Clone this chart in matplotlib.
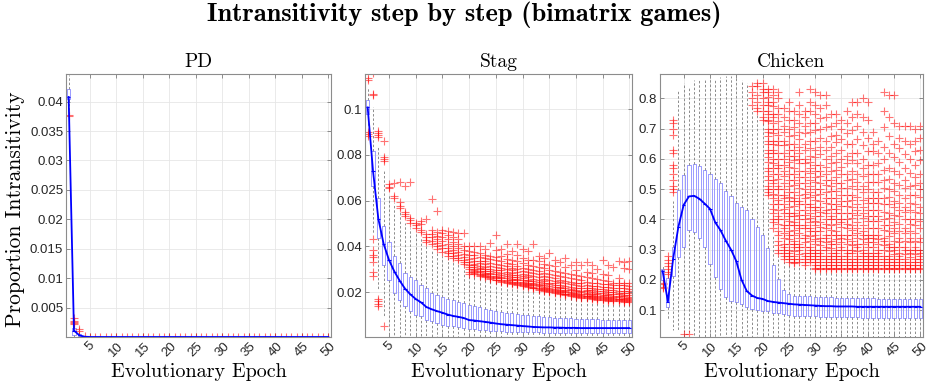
import numpy as np
import matplotlib.pyplot as plt
from matplotlib.ticker import FuncFormatter

epochs = list(range(1, 51))

# ---- PD ----
pd_med = [0.0408, 0.0011, 0.0003, 0.00005, 0, 0, 0, 0, 0, 0,
          0, 0, 0, 0, 0, 0, 0, 0, 0, 0,
          0, 0, 0, 0, 0, 0, 0, 0, 0, 0,
          0, 0, 0, 0, 0, 0, 0, 0, 0, 0,
          0, 0, 0, 0, 0, 0, 0, 0, 0, 0]
pd_q1 = [0.0404, 0.0004, 0.0001, 0, 0, 0, 0, 0, 0, 0,
         0, 0, 0, 0, 0, 0, 0, 0, 0, 0,
         0, 0, 0, 0, 0, 0, 0, 0, 0, 0,
         0, 0, 0, 0, 0, 0, 0, 0, 0, 0,
         0, 0, 0, 0, 0, 0, 0, 0, 0, 0]
pd_q3 = [0.0421, 0.0016, 0.0005, 0.0001, 0, 0, 0, 0, 0, 0,
         0, 0, 0, 0, 0, 0, 0, 0, 0, 0,
         0, 0, 0, 0, 0, 0, 0, 0, 0, 0,
         0, 0, 0, 0, 0, 0, 0, 0, 0, 0,
         0, 0, 0, 0, 0, 0, 0, 0, 0, 0]
pd_lo = [0.0385, 0, 0, 0, 0, 0, 0, 0, 0, 0,
         0, 0, 0, 0, 0, 0, 0, 0, 0, 0,
         0, 0, 0, 0, 0, 0, 0, 0, 0, 0,
         0, 0, 0, 0, 0, 0, 0, 0, 0, 0,
         0, 0, 0, 0, 0, 0, 0, 0, 0, 0]
pd_hi = [0.0445, 0.0019, 0.0008, 0.0001, 0, 0, 0, 0, 0, 0,
         0, 0, 0, 0, 0, 0, 0, 0, 0, 0,
         0, 0, 0, 0, 0, 0, 0, 0, 0, 0,
         0, 0, 0, 0, 0, 0, 0, 0, 0, 0,
         0, 0, 0, 0, 0, 0, 0, 0, 0, 0]
pd_out = [[0.0375, 0.0378], [0.0022, 0.0024, 0.0026, 0.0028, 0.0033], [0.0011, 0.0013], [0.0002],
          [8e-5], [8e-5], [8e-5], [8e-5], [8e-5], [8e-5], [8e-5], [8e-5], [8e-5], [8e-5],
          [8e-5], [8e-5], [8e-5], [8e-5], [8e-5], [8e-5], [8e-5], [8e-5], [8e-5], [8e-5],
          [8e-5], [8e-5], [8e-5], [8e-5], [8e-5], [8e-5], [8e-5], [8e-5], [8e-5], [8e-5],
          [8e-5], [8e-5], [8e-5], [8e-5], [8e-5], [8e-5], [8e-5], [8e-5], [8e-5], [8e-5],
          [8e-5], [8e-5], [8e-5], [8e-5], [8e-5], [8e-5]]

# ---- Stag ----
stag_med = [0.1007, 0.073, 0.052, 0.041, 0.034, 0.029, 0.025, 0.0215, 0.019, 0.017,
            0.0155, 0.0135, 0.0125, 0.0117, 0.011, 0.0102, 0.0096, 0.0092, 0.0087, 0.0078,
            0.0076, 0.0073, 0.007, 0.0067, 0.0063, 0.006, 0.0058, 0.0056, 0.0054, 0.0052,
            0.005, 0.0048, 0.0047, 0.0046, 0.0046, 0.0045, 0.0045, 0.0044, 0.0044, 0.0044,
            0.0043, 0.0043, 0.0043, 0.0043, 0.0043, 0.0043, 0.0043, 0.0043, 0.0043, 0.0043]
stag_q1 = [0.0978, 0.0662, 0.0435, 0.0319, 0.0254, 0.0196, 0.0164, 0.0138, 0.0116, 0.0102,
           0.0094, 0.008, 0.0072, 0.0065, 0.0058, 0.0054, 0.0051, 0.0048, 0.0043, 0.0039,
           0.0038, 0.0036, 0.0034, 0.0032, 0.003, 0.0029, 0.0028, 0.0027, 0.0026, 0.0025,
           0.0025, 0.0024, 0.0024, 0.0023, 0.0023, 0.0023, 0.0023, 0.0022, 0.0022, 0.0022,
           0.0022, 0.0022, 0.0022, 0.0022, 0.0022, 0.0022, 0.0022, 0.0022, 0.0022, 0.0022]
stag_q3 = [0.104, 0.0816, 0.061, 0.049, 0.042, 0.036, 0.0326, 0.0283, 0.0268, 0.0254,
           0.0232, 0.0217, 0.0196, 0.0188, 0.0178, 0.017, 0.0164, 0.0158, 0.0152, 0.0145,
           0.0138, 0.0133, 0.0128, 0.0122, 0.0116, 0.0113, 0.011, 0.0107, 0.0104, 0.0101,
           0.0099, 0.0097, 0.0095, 0.0093, 0.009, 0.0089, 0.0088, 0.0087, 0.0085, 0.0084,
           0.0083, 0.0082, 0.0081, 0.0081, 0.008, 0.0079, 0.0079, 0.0078, 0.0078, 0.0077]
stag_lo = [0.092, 0.046, 0.021, 0.009, 0.001, 0.0008, 0.0006, 0.0005, 0.0005, 0.0005,
           0.0005, 0.0005, 0.0005, 0.0005, 0.0005, 0.0005, 0.0005, 0.0005, 0.0005, 0.0005,
           0.0005, 0.0005, 0.0005, 0.0005, 0.0005, 0.0005, 0.0005, 0.0005, 0.0005, 0.0005,
           0.0005, 0.0005, 0.0005, 0.0005, 0.0005, 0.0005, 0.0005, 0.0005, 0.0005, 0.0005,
           0.0005, 0.0005, 0.0005, 0.0005, 0.0005, 0.0005, 0.0005, 0.0005, 0.0005, 0.0005]
stag_hi = [0.109, 0.101, 0.084, 0.073, 0.063, 0.059, 0.055, 0.05, 0.048, 0.046,
           0.044, 0.04, 0.039, 0.037, 0.036, 0.035, 0.034, 0.033, 0.031, 0.027,
           0.027, 0.0265, 0.026, 0.025, 0.0245, 0.024, 0.0235, 0.023, 0.0225, 0.022,
           0.0215, 0.021, 0.0205, 0.02, 0.0195, 0.019, 0.0185, 0.018, 0.0178, 0.0175,
           0.017, 0.0168, 0.0165, 0.0162, 0.016, 0.0158, 0.0156, 0.0155, 0.0154, 0.0152]
# outliers, in thousandths
stag_out = [
    [113.6, 112.6, 89.8, 88.9, 88.1],
    [115.8, 106.6, 106.0, 43.0, 38.2, 36.4, 35.2, 33.0, 29.0, 27.0],
    [90.2, 89.4, 88.6, 87.9, 17.2, 16.1, 15.0, 13.9],
    [86.2, 79.0, 78.1, 77.2, 5.0],
    [67.4, 66.1, 65.3],
    [67.5, 62.0, 61.1],
    [68.1, 59.4, 57.6, 56.7],
    [66.2, 55.2, 54.3, 53.1],
    [68.2, 52.4, 51.5, 50.2],
    [50.4, 49.3, 48.1],
    [51.2, 49.9, 47.3, 46.2],
    [52.1, 45.3, 44.2, 42.8, 41.9],
    [60.5, 47.1, 45.4, 44.0, 42.5, 41.0],
    [55.6, 46.2, 44.4, 43.1, 41.6, 40.2, 38.8],
    [47.2, 45.8, 44.0, 42.3, 40.4, 39.1, 37.6],
    [46.8, 45.0, 43.1, 41.2, 39.5, 38.1, 36.9, 36.0],
    [46.1, 44.2, 42.0, 40.3, 38.4, 37.0, 35.8, 34.9],
    [45.8, 43.0, 41.1, 39.2, 37.4, 36.2, 35.1, 34.0],
    [46.0, 40.2, 38.3, 36.6, 35.2, 34.1, 33.0, 32.1],
    [40.1, 38.0, 36.2, 34.5, 33.2, 32.0, 31.1, 30.0, 29.0, 28.1],
    [28.0, 28.3, 28.8, 29.1, 29.8, 30.2, 31.0, 31.7, 32.5, 33.6, 34.8, 36.1, 37.5, 40.0],
    [27.2, 27.5, 28.1, 28.7, 29.1, 29.9, 30.6, 31.4, 32.7, 33.8, 35.3, 37.0, 40.3],
    [26.6, 26.9, 27.5, 28.0, 28.5, 29.3, 30.1, 31.1, 32.2, 33.4, 35.0, 36.4, 39.0],
    [25.6, 26.1, 26.5, 27.0, 27.8, 28.4, 29.3, 30.3, 31.4, 32.9, 34.3, 36.0, 41.5],
    [25.1, 25.4, 26.0, 26.6, 27.2, 28.0, 28.8, 29.8, 31.0, 32.2, 33.9, 35.5, 38.2, 45.0],
    [24.6, 25.0, 25.4, 26.1, 26.8, 27.5, 28.4, 29.5, 30.5, 32.0, 33.4, 35.6, 39.0],
    [24.1, 24.5, 25.0, 25.5, 26.3, 27.1, 27.9, 28.8, 30.0, 31.3, 32.7, 34.6, 36.8, 41.0],
    [23.6, 24.0, 24.4, 25.1, 25.8, 26.4, 27.3, 28.3, 29.5, 30.6, 32.2, 34.0, 38.0],
    [23.1, 23.4, 24.0, 24.6, 25.1, 25.9, 26.8, 27.6, 28.7, 30.1, 31.5, 33.5, 36.2, 41.0],
    [22.6, 23.0, 23.5, 24.0, 24.6, 25.2, 26.1, 27.1, 28.1, 29.3, 30.7, 32.6, 35.0, 39.0],
    [22.1, 22.5, 22.9, 23.4, 24.1, 24.7, 25.5, 26.4, 27.3, 28.6, 30.0, 31.8, 34.2, 38.0],
    [21.6, 21.9, 22.4, 22.9, 23.5, 24.2, 24.9, 25.9, 26.9, 28.2, 29.6, 31.5, 34.0, 41.0],
    [21.1, 21.5, 21.9, 22.5, 23.1, 23.7, 24.6, 25.5, 26.6, 27.8, 29.3, 31.2, 33.5, 36.0],
    [20.6, 21.0, 21.4, 21.9, 22.4, 23.2, 23.9, 24.8, 25.8, 27.1, 28.5, 30.4, 32.5, 35.0],
    [20.1, 20.4, 20.9, 21.4, 22.0, 22.6, 23.4, 24.2, 25.3, 26.5, 27.9, 29.8, 32.0, 37.0],
    [19.6, 20.0, 20.4, 20.8, 21.5, 22.1, 22.9, 23.8, 24.8, 26.0, 27.4, 29.2, 31.4, 34.0],
    [19.1, 19.5, 19.9, 20.4, 21.0, 21.6, 22.3, 23.3, 24.3, 25.5, 27.0, 28.8, 33.0],
    [18.6, 19.0, 19.4, 19.9, 20.5, 21.1, 21.9, 22.7, 23.8, 25.0, 26.6, 28.5, 31.0, 35.0],
    [18.3, 18.7, 19.1, 19.6, 20.1, 20.8, 21.5, 22.4, 23.4, 24.6, 26.0, 28.0, 32.0],
    [18.0, 18.4, 18.8, 19.3, 19.8, 20.4, 21.1, 22.0, 23.1, 24.2, 25.6, 27.5, 29.6, 33.0],
    [17.6, 18.0, 18.4, 18.9, 19.4, 20.0, 20.7, 21.6, 22.6, 23.8, 25.3, 27.2, 32.0],
    [17.3, 17.7, 18.1, 18.5, 19.0, 19.6, 20.3, 21.1, 22.0, 23.2, 24.6, 26.4, 29.0, 33.0],
    [17.0, 17.4, 17.8, 18.2, 18.7, 19.3, 20.0, 20.8, 21.7, 22.8, 24.2, 26.0, 28.5, 32.0],
    [16.7, 17.1, 17.5, 17.9, 18.4, 19.0, 19.7, 20.5, 21.4, 22.5, 23.9, 25.6, 30.0],
    [16.5, 16.9, 17.3, 17.7, 18.2, 18.8, 19.5, 20.3, 21.2, 22.3, 23.6, 25.3, 28.0, 34.0],
    [16.3, 16.7, 17.1, 17.5, 18.0, 18.6, 19.3, 20.1, 21.0, 22.1, 23.4, 25.0, 27.5, 32.0],
    [16.1, 16.5, 16.9, 17.3, 17.8, 18.4, 19.1, 19.9, 20.8, 21.9, 23.2, 24.0, 31.0],
    [16.0, 16.4, 16.8, 17.2, 17.7, 18.3, 19.0, 19.8, 20.7, 21.8, 23.0, 24.2, 26.0, 33.5],
    [15.9, 16.3, 16.7, 17.1, 17.6, 18.2, 18.9, 19.7, 20.6, 21.7, 22.9, 24.0, 30.5, 33.0],
    [15.7, 16.1, 16.5, 16.9, 17.4, 18.0, 18.7, 19.5, 20.4, 21.5, 22.7, 24.0, 30.0, 33.5],
]

# ---- Chicken ----
ch_med = [0.229, 0.128, 0.27, 0.376, 0.448, 0.476, 0.478, 0.468, 0.452, 0.435,
          0.39, 0.364, 0.33, 0.3, 0.262, 0.2, 0.163, 0.148, 0.14, 0.137,
          0.13, 0.127, 0.125, 0.123, 0.121, 0.119, 0.118, 0.117, 0.116, 0.115,
          0.114, 0.113, 0.113, 0.112, 0.112, 0.112, 0.112, 0.111, 0.111, 0.111,
          0.111, 0.111, 0.111, 0.111, 0.111, 0.111, 0.111, 0.111, 0.111, 0.111]
ch_q1 = [0.198, 0.11, 0.214, 0.276, 0.309, 0.364, 0.359, 0.337, 0.309, 0.253,
         0.209, 0.17, 0.142, 0.131, 0.126, 0.12, 0.109, 0.103, 0.1, 0.098,
         0.096, 0.092, 0.09, 0.087, 0.084, 0.081, 0.08, 0.08, 0.079, 0.079,
         0.078, 0.078, 0.077, 0.077, 0.077, 0.076, 0.076, 0.076, 0.075, 0.075,
         0.075, 0.075, 0.074, 0.074, 0.074, 0.074, 0.073, 0.073, 0.073, 0.073]
ch_q3 = [0.237, 0.207, 0.309, 0.498, 0.548, 0.581, 0.584, 0.576, 0.564, 0.55,
         0.535, 0.52, 0.494, 0.476, 0.455, 0.442, 0.431, 0.4, 0.376, 0.348,
         0.306, 0.248, 0.203, 0.168, 0.153, 0.148, 0.147, 0.146, 0.145, 0.144,
         0.143, 0.142, 0.142, 0.141, 0.141, 0.14, 0.14, 0.14, 0.139, 0.139,
         0.139, 0.138, 0.138, 0.138, 0.138, 0.137, 0.137, 0.137, 0.137, 0.137]
ch_lo = [0.195, 0.07, 0.035, 0.03, 0.028, 0.028, 0.012, 0.012, 0.012, 0.012,
         0.012, 0.012, 0.012, 0.012, 0.012, 0.012, 0.012, 0.012, 0.012, 0.012,
         0.012, 0.012, 0.012, 0.012, 0.012, 0.012, 0.012, 0.012, 0.012, 0.012,
         0.012, 0.012, 0.012, 0.012, 0.012, 0.012, 0.012, 0.012, 0.012, 0.012,
         0.012, 0.012, 0.012, 0.012, 0.012, 0.012, 0.012, 0.012, 0.012, 0.012]
ch_hi = [0.25, 0.212, 0.46, 0.825, 0.85, 0.835, 0.86, 0.865, 0.865, 0.87,
         0.86, 0.87, 0.875, 0.875, 0.88, 0.86, 0.85, 0.77, 0.75, 0.72,
         0.46, 0.35, 0.28, 0.26, 0.25, 0.245, 0.25, 0.245, 0.25, 0.228,
         0.228, 0.228, 0.228, 0.228, 0.228, 0.228, 0.228, 0.228, 0.228, 0.228,
         0.228, 0.228, 0.228, 0.228, 0.228, 0.228, 0.228, 0.228, 0.228, 0.228]
# outliers, in hundredths
ch_out = [
    [19.0, 18.5, 17.8, 17.2],
    [28.0, 26.5, 25.5, 24.5, 23.5, 22.5, 22.0],
    [73, 72, 70, 68, 63, 62, 58, 57, 55, 53, 51, 50, 49],
    [],
    [2.2],
    [2.2],
    [], [], [], [], [], [], [], [], [], [], [],
    [84, 82, 80, 78],
    [85, 84, 81, 79, 77, 76],
    [85, 83, 82, 80, 78, 76, 74, 73],
    [83, 82, 80.5, 79, 78, 76, 75, 73, 72.5, 70, 69, 67.5, 66, 65, 63, 62, 60.5, 59, 57, 56, 54.5, 53, 51, 50, 49, 48],
    [83, 81, 79, 77.5, 75, 74, 72, 70, 68.5, 66, 65, 63, 62, 60, 58.5, 57, 55, 53, 52, 50, 48.5, 47, 45, 43.5, 42, 40, 39, 37],
    [82, 80, 77, 75, 72.5, 70, 68, 66, 64.5, 62, 60, 58, 57, 55, 53.5, 51, 50, 48, 46.5, 45, 43, 41, 40, 38.5, 36, 35, 33, 31.5, 30, 29],
    [77, 74, 71, 69, 66, 64.5, 62, 60, 58, 56, 54.5, 52, 50, 48, 47, 45, 43.5, 42, 40, 38, 37, 35.5, 34, 32, 31, 30, 29, 28, 27],
    [79, 76, 73, 70, 67.5, 65, 63, 61, 59, 57.5, 55, 53, 51, 49, 47.5, 46, 44, 42, 41, 39.5, 38, 36, 35, 33.5, 32, 30, 29, 28, 27, 26],
    [76, 73, 70.5, 68, 65, 63, 61, 59.5, 57, 55, 53, 51.5, 49, 47, 46, 44.5, 42, 41, 39, 38, 36.5, 35, 33, 32, 31, 29.5, 28, 27, 26, 25.5],
    [82, 78, 75, 72, 69, 66.5, 64, 62, 60, 58.5, 56, 54, 52, 50.5, 48, 46, 45, 43, 41.5, 40, 38, 37, 35.5, 34, 32, 31, 30, 28.5, 27, 26],
    [76, 74, 71, 68.5, 65, 63, 60, 58.5, 56, 54, 52, 50, 48.5, 47, 45, 43, 41.5, 40, 38, 37, 35, 34, 32.5, 31, 29, 28, 27, 26, 25],
    [83, 79, 76, 72, 69, 66, 63.5, 61, 59, 57, 55.5, 53, 51, 49, 47.5, 45, 44, 42, 40.5, 39, 37, 36, 34.5, 33, 31, 30, 29, 28, 27, 26],
    [82, 78, 75, 72, 69.5, 66, 63, 60.5, 58, 56, 54, 52.5, 50, 48, 46.5, 44, 43, 41, 39.5, 38, 36, 35, 33.5, 32, 30, 29, 28, 27, 26, 25, 24, 23.5],
    [81, 77, 73.5, 70, 67, 64, 61.5, 58, 56, 54.5, 52, 50, 48.5, 46, 44, 42.5, 41, 39, 37.5, 36, 34, 33, 31.5, 30, 29, 28, 27, 26, 25, 24, 23.5],
    [81, 78, 74, 70.5, 66, 63, 60, 57.5, 55, 53, 51.5, 49, 47, 45.5, 43, 42, 40, 38.5, 37, 35, 34, 32.5, 31, 30, 28, 27, 26, 25, 24, 23.5],
    [75, 71, 67.5, 64, 61, 58.5, 56, 53, 51, 49.5, 47, 45, 43.5, 41, 40, 38, 36.5, 35, 33, 32, 30.5, 29, 28, 27, 26, 25, 24, 23.5],
    [75, 72, 68, 65.5, 62, 59, 56.5, 54, 52, 49.5, 47, 45, 43.5, 42, 40, 38.5, 36, 35, 33.5, 32, 30, 29, 28, 27, 26, 25, 24, 23.5],
    [73, 70, 66.5, 63, 60, 57.5, 55, 52, 50.5, 48, 46, 44.5, 42, 40, 39, 37.5, 35, 34, 32.5, 31, 30, 28, 27, 26, 25, 24, 23.5],
    [76, 72, 68.5, 65, 61, 58.5, 55, 53, 50.5, 48, 46, 44.5, 42, 40, 38.5, 37, 35, 33.5, 32, 30, 29, 28, 27, 26, 25, 24, 23.5],
    [79, 74, 69.5, 65, 62, 59.5, 56, 53.5, 51, 48, 46.5, 44, 42, 40.5, 38, 36.5, 35, 33, 31.5, 30, 29, 27, 26, 25, 24, 23.5],
    [79, 75, 71, 66.5, 62, 58.5, 55, 52.5, 50, 47.5, 45, 43, 41.5, 39, 37, 35.5, 34, 32, 31, 29.5, 28, 27, 26, 25, 24, 23.5],
    [80, 74, 69, 64.5, 60, 57, 54.5, 51, 49, 46.5, 44, 42, 40.5, 38, 36, 35, 33.5, 32, 30, 29, 28, 27, 26, 25, 24, 23.5],
    [79, 73, 67, 62.5, 58, 55, 52.5, 50, 47, 45.5, 43, 41, 39.5, 37, 35, 34, 32.5, 31, 29, 28, 27, 26, 25, 24, 23.5],
    [69, 65, 62.5, 58, 55, 52.5, 49, 47, 45.5, 43, 41, 39.5, 37, 35, 34, 32.5, 31, 29, 28, 27, 26, 25, 24, 23.5],
    [66, 62, 58.5, 55, 52.5, 49, 47, 45.5, 43, 41, 39.5, 37, 35, 33.5, 32, 30, 29, 28, 27, 26, 25, 24, 23.5],
    [82, 76, 70.5, 64, 60, 56.5, 53, 50.5, 47, 45, 42.5, 40, 38, 36.5, 34, 33, 31.5, 30, 28, 27, 26, 25, 24, 23.5],
    [81, 74, 67.5, 62, 57, 53.5, 50, 47.5, 45, 42, 40.5, 38, 36, 34.5, 32, 31, 29.5, 28, 27, 26, 25, 24, 23.5],
    [81, 72, 65, 60.5, 56, 52, 49.5, 46, 44, 41.5, 39, 37, 35.5, 33, 31, 30, 28.5, 27, 26, 25, 24, 23.5],
    [71, 67, 63.5, 59, 55, 51.5, 48, 45.5, 43, 41, 38.5, 36, 34, 32.5, 31, 29, 28, 27, 26, 25, 24, 23.5],
    [71, 66, 61.5, 57, 53, 50.5, 47, 44, 42.5, 40, 37, 35.5, 33, 31, 30, 28.5, 27, 26, 25, 24, 23.5],
    [71, 65, 60, 55.5, 51, 48, 45.5, 43, 40, 38.5, 36, 34, 32.5, 30, 29, 27.5, 26, 25, 24, 23.5],
    [70, 66, 62.5, 58, 54, 51.5, 48, 45, 42.5, 40, 38, 35.5, 33, 31, 30, 28.5, 27, 26, 25, 24, 23.5],
    [71, 67, 63, 59.5, 55, 52, 50, 47.5, 44, 42, 39.5, 37, 34, 32.5, 30, 29, 28, 27, 26, 25, 24, 23.5],
]

titles = ['PD', 'Stag', 'Chicken']
ylims = [(0, 0.0447), (0.0004, 0.1153), (0.011, 0.881)]
yticks = [[0.005, 0.01, 0.015, 0.02, 0.025, 0.03, 0.035, 0.04],
          [0.02, 0.04, 0.06, 0.08, 0.1],
          [0.1, 0.2, 0.3, 0.4, 0.5, 0.6, 0.7, 0.8]]
xticks = [5, 10, 15, 20, 25, 30, 35, 40, 45, 50]

panels = [
    (pd_q1, pd_med, pd_q3, pd_lo, pd_hi, pd_out, 1.0),
    (stag_q1, stag_med, stag_q3, stag_lo, stag_hi, stag_out, 1e-3),
    (ch_q1, ch_med, ch_q3, ch_lo, ch_hi, ch_out, 1e-2),
]

fig = plt.figure(figsize=(9.28, 3.85), dpi=100)
lefts = [66, 365, 660]
widths = [265, 267, 263]
tick_font = 'Liberation Sans'
serif = 'cmr10'

for i, (q1, med, q3, lo, hi, out, scale) in enumerate(panels):
    ax = fig.add_axes([lefts[i] / 928, 48 / 385, widths[i] / 928, 263 / 385])
    stats = []
    for k in range(50):
        stats.append(dict(med=med[k], q1=q1[k], q3=q3[k], whislo=lo[k], whishi=hi[k],
                          fliers=np.array(out[k], dtype=float) * scale))
    ax.bxp(stats, positions=epochs, widths=0.6, showcaps=False, manage_ticks=False,
           boxprops=dict(color='#9a9aff', lw=0.7),
           whiskerprops=dict(color='0.55', lw=0.7, ls=(0, (2.5, 2))),
           medianprops=dict(color='blue', lw=0.8),
           flierprops=dict(marker='+', markeredgecolor='red', alpha=0.55,
                           markersize=5.5, mew=0.8))
    ax.plot(epochs, med, color='blue', lw=1.3, zorder=5)

    ax.set_xlim(0.5, 50.5)
    ax.set_ylim(*ylims[i])
    ax.set_xticks(xticks)
    ax.set_yticks(yticks[i])
    ax.yaxis.set_major_formatter(FuncFormatter(lambda v, p: '%g' % v))
    for lab in ax.get_xticklabels():
        lab.set_rotation(45)
        lab.set_ha('center')
        lab.set_fontfamily(tick_font)
        lab.set_fontsize(9.5)
        lab.set_color('0.15')
    for lab in ax.get_yticklabels():
        lab.set_fontfamily(tick_font)
        lab.set_fontsize(9.5)
        lab.set_color('0.15')
    ax.tick_params(direction='in', length=3, width=0.5, color='0.4',
                   top=True, right=True, pad=2)
    ax.grid(True, color='0.9', lw=0.6)
    ax.set_axisbelow(True)
    for sp in ax.spines.values():
        sp.set_color('0.55')
        sp.set_linewidth(0.8)

    ax.set_title(titles[i], fontfamily=serif, fontsize=14, pad=5)
    ax.set_xlabel('Evolutionary Epoch', fontfamily=serif, fontsize=14.5)
    ax.xaxis.set_label_coords(0.5, -0.1)
    if i == 0:
        ax.set_ylabel('Proportion Intransitivity', fontfamily=serif, fontsize=15.5)
        ax.yaxis.set_label_coords(-0.155, 0.485)

fig.text(0.5, 1 - 15 / 385, 'Intransitivity step by step (bimatrix games)',
         fontfamily='cmb10', fontsize=19, ha='center', va='center')

fig.savefig('out.png', dpi=100)
